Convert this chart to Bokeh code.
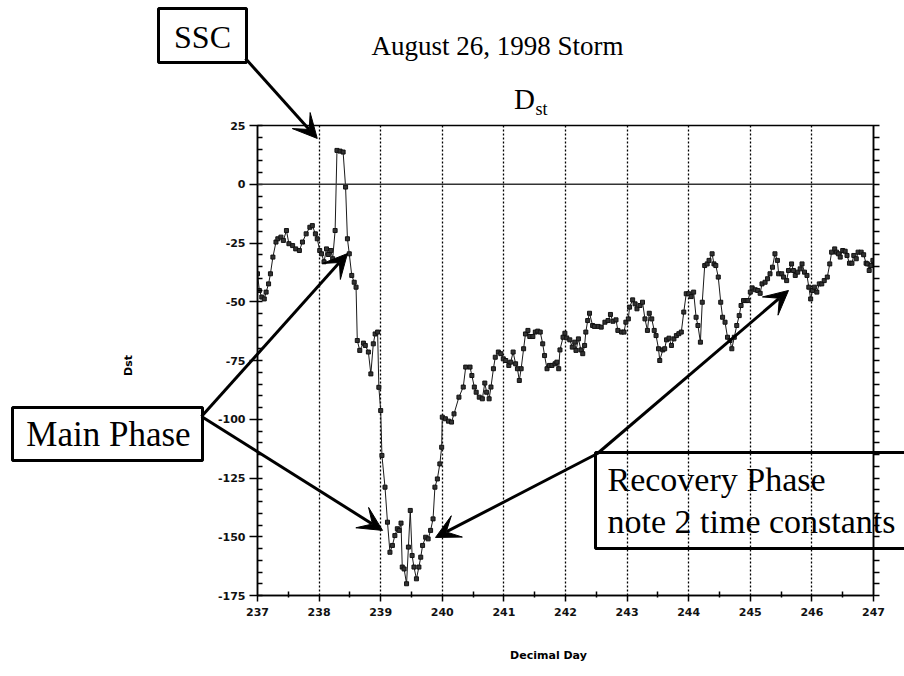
from bokeh.plotting import figure
from bokeh.models import (Range1d, FixedTicker, LinearAxis, Span, Label, Arrow,
                          VeeHead, BoxAnnotation, Column)
from bokeh.embed import file_html
from bokeh.resources import INLINE

# Dst index, August 1998 storm (decimal day of year, nT)
day = [
    237.00, 237.03, 237.07, 237.11, 237.14, 237.18, 237.21, 237.25, 237.30, 237.33,
    237.38, 237.42, 237.47, 237.51, 237.57, 237.62, 237.68, 237.73, 237.79, 237.85,
    237.89, 237.94, 237.97, 238.01, 238.04, 238.08, 238.12, 238.15, 238.19, 238.22,
    238.26, 238.29, 238.34, 238.39, 238.43, 238.46, 238.49, 238.53, 238.57, 238.60,
    238.62, 238.66, 238.72, 238.75, 238.80, 238.84, 238.88, 238.91, 238.95, 238.97,
    239.00, 239.02, 239.07, 239.11, 239.15, 239.19, 239.23, 239.27, 239.30, 239.33,
    239.35, 239.38, 239.42, 239.45, 239.48, 239.51, 239.54, 239.58, 239.62, 239.65,
    239.68, 239.73, 239.77, 239.81, 239.85, 239.88, 239.92, 239.96, 239.99, 240.00,
    240.05, 240.10, 240.15, 240.19, 240.27, 240.34, 240.38, 240.45, 240.48, 240.52,
    240.55, 240.60, 240.65, 240.69, 240.72, 240.76, 240.79, 240.83, 240.86, 240.91,
    240.95, 240.99, 241.03, 241.08, 241.11, 241.15, 241.19, 241.22, 241.25, 241.28,
    241.32, 241.35, 241.39, 241.42, 241.47, 241.51, 241.55, 241.59, 241.63, 241.66,
    241.70, 241.74, 241.78, 241.83, 241.86, 241.89, 241.91, 241.96, 241.99, 242.02,
    242.07, 242.11, 242.15, 242.17, 242.21, 242.25, 242.28, 242.31, 242.33, 242.36,
    242.39, 242.44, 242.47, 242.53, 242.58, 242.64, 242.69, 242.73, 242.77, 242.82,
    242.85, 242.91, 242.95, 242.98, 243.02, 243.04, 243.09, 243.13, 243.16, 243.21,
    243.25, 243.29, 243.33, 243.36, 243.40, 243.44, 243.47, 243.51, 243.53, 243.58,
    243.61, 243.64, 243.68, 243.72, 243.76, 243.80, 243.84, 243.88, 243.92, 243.96,
    244.00, 244.04, 244.08, 244.12, 244.15, 244.19, 244.22, 244.26, 244.30, 244.33,
    244.38, 244.41, 244.44, 244.48, 244.52, 244.55, 244.59, 244.63, 244.67, 244.70,
    244.74, 244.78, 244.82, 244.85, 244.89, 244.93, 244.96, 245.00, 245.03, 245.08,
    245.12, 245.16, 245.19, 245.24, 245.28, 245.32, 245.36, 245.40, 245.44, 245.46,
    245.51, 245.54, 245.59, 245.62, 245.67, 245.70, 245.73, 245.77, 245.81, 245.84,
    245.88, 245.92, 245.95, 245.98, 246.01, 246.04, 246.08, 246.12, 246.16, 246.20,
    246.25, 246.29, 246.32, 246.37, 246.40, 246.43, 246.46, 246.50, 246.54, 246.57,
    246.61, 246.65, 246.68, 246.72, 246.75, 246.80, 246.84, 246.88, 246.90, 246.93,
    246.96, 246.99,
]
dst = [
    -38.1, -45.2, -48.0, -48.8, -45.9, -42.4, -38.1, -31.0, -24.6, -23.2,
    -22.5, -23.9, -19.7, -25.3, -26.1, -27.5, -28.2, -24.6, -21.1, -18.3,
    -17.6, -21.1, -23.2, -28.2, -29.6, -33.0, -27.5, -29.9, -28.2, -31.7,
    -19.7, 14.4, 14.1, 13.7, -1.2, -23.2, -29.6, -38.8, -41.7, -43.8,
    -66.5, -70.7, -67.6, -68.6, -71.4, -80.7, -67.9, -63.7, -62.9, -86.4,
    -96.3, -115.4, -128.9, -143.8, -156.6, -153.7, -149.5, -146.6, -147.3, -144.2,
    -162.9, -163.7, -170.0, -154.4, -138.8, -158.0, -162.9, -167.9, -162.9, -158.7,
    -153.7, -150.2, -150.9, -147.3, -142.4, -128.9, -125.4, -119.0, -111.9, -99.1,
    -99.8, -100.8, -101.2, -97.7, -90.6, -86.3, -77.8, -77.8, -81.4, -86.3,
    -88.5, -90.6, -91.3, -84.6, -88.5, -91.3, -86.3, -78.5, -73.6, -71.4,
    -72.1, -74.3, -75.0, -77.1, -75.7, -71.4, -76.4, -78.5, -83.5, -78.5,
    -70.0, -63.7, -62.2, -64.8, -64.8, -62.9, -62.5, -62.9, -67.9, -72.9,
    -78.5, -77.1, -77.1, -76.4, -75.7, -78.5, -70.5, -65.1, -63.4, -65.4,
    -66.2, -69.3, -67.2, -70.7, -65.8, -70.5, -72.1, -68.6, -62.9, -58.0,
    -54.9, -60.1, -60.5, -60.5, -60.8, -58.7, -58.0, -55.4, -58.3, -57.7,
    -62.2, -62.9, -62.9, -58.7, -57.3, -52.3, -49.2, -50.9, -53.0, -51.6,
    -50.2, -57.3, -62.2, -54.9, -57.3, -62.2, -64.4, -70.0, -75.0, -70.5,
    -70.0, -66.2, -65.5, -68.6, -65.8, -64.4, -63.6, -62.9, -54.4, -46.6,
    -46.6, -47.8, -45.9, -56.6, -60.1, -67.2, -50.2, -34.6, -33.9, -32.4,
    -29.6, -33.9, -34.6, -39.5, -50.2, -56.6, -58.7, -65.1, -66.5, -70.0,
    -65.1, -60.1, -55.9, -51.6, -49.5, -49.5, -49.5, -45.9, -44.1, -44.9,
    -45.2, -46.4, -42.4, -41.7, -40.2, -38.1, -35.3, -29.6, -32.4, -38.1,
    -38.1, -39.5, -41.0, -36.7, -33.9, -36.7, -38.8, -37.4, -36.0, -33.9,
    -37.4, -38.8, -43.8, -48.8, -45.2, -43.8, -45.9, -42.4, -42.4, -41.0,
    -39.5, -33.9, -28.9, -27.5, -28.9, -29.6, -31.0, -28.2, -28.5, -30.3,
    -33.6, -33.6, -30.3, -31.7, -28.9, -28.9, -30.0, -33.6, -33.9, -36.7,
    -34.6, -32.4,
]

x_ticks = [237, 238, 239, 240, 241, 242, 243, 244, 245, 246, 247]
x_tick_labels = ["237", "238", "239", "240", "241", "242", "243", "244", "245", "246", "247"]
x_minor = [237.5, 238.5, 239.5, 240.5, 241.5, 242.5, 243.5, 244.5, 245.5, 246.5]
day_lines = [238, 239, 240, 241, 242, 243, 244, 245, 246]
y_ticks = [25, 0, -25, -50, -75, -100, -125, -150, -175]
y_tick_labels = ["25", "0", "-25", "-50", "-75", "-100", "-125", "-150", "-175"]
y_minor = list(range(-175, 30, 5))

# callout targets on the curve (day, nT)
ssc_tip = (237.97, 19.5)
main_tips = [(238.46, -29.5), (239.03, -147.3)]
recovery_tips = [(239.89, -150.3), (245.62, -45.2)]

X0, X1 = 237, 247
Y0, Y1 = -175, 25

# page layout (pixels): plot frame edges
FL, FR, FT, FB = 257, 873, 125, 595
W, H = 904, 676


def to_px(d, v):
    """Page pixel position of a (day, Dst) point inside the plot frame."""
    return (FL + (d - X0) * (FR - FL) / (X1 - X0),
            FT + (Y1 - v) * (FB - FT) / (Y1 - Y0))


# ---- main plot -------------------------------------------------------------
p = figure(width=W, height=H, output_backend="svg", toolbar_location=None,
           x_range=Range1d(X0, X1), y_range=Range1d(Y0, Y1),
           min_border_left=FL, min_border_right=W - FR,
           min_border_top=FT, min_border_bottom=H - FB,
           background_fill_color="white", border_fill_color="white",
           frame_align=False)
p.outline_line_color = "black"
p.outline_line_width = 1.5

tick_font = "DejaVu Sans"

xa = p.xaxis[0]
xa.ticker = FixedTicker(ticks=x_ticks, minor_ticks=x_minor)
xa.major_label_overrides = dict(zip(x_ticks, x_tick_labels))
xa.major_label_text_font = tick_font
xa.major_label_text_font_size = "11px"
xa.major_label_text_font_style = "bold"
xa.major_label_text_color = "#111"
xa.major_label_standoff = 6
xa.major_tick_out = 6
xa.major_tick_in = 0
xa.minor_tick_in = 4
xa.minor_tick_out = 2
xa.axis_line_width = 1.5
xa.major_tick_line_width = 1.5
xa.minor_tick_line_width = 1.5

ya = p.yaxis[0]
ya.ticker = FixedTicker(ticks=y_ticks, minor_ticks=y_minor)
ya.major_label_overrides = dict(zip(y_ticks, y_tick_labels))
ya.major_label_text_font = tick_font
ya.major_label_text_font_size = "11px"
ya.major_label_text_font_style = "bold"
ya.major_label_text_color = "#111"
ya.major_label_standoff = 4
ya.major_tick_out = 8
ya.major_tick_in = 0
ya.minor_tick_in = 5
ya.minor_tick_out = 0
ya.axis_line_width = 1.5
ya.major_tick_line_width = 1.5
ya.minor_tick_line_width = 1.5

right = LinearAxis(ticker=FixedTicker(ticks=[], minor_ticks=y_minor),
                   minor_tick_out=6, minor_tick_in=0, axis_line_width=1.5,
                   minor_tick_line_width=1.5)
p.add_layout(right, "right")

p.ygrid.visible = False
p.xgrid.ticker = FixedTicker(ticks=day_lines)
p.xgrid.grid_line_color = "black"
p.xgrid.grid_line_dash = "2 2"
p.xgrid.grid_line_width = 1.3

p.add_layout(Span(location=0, dimension="width", line_color="#333", line_width=1.5))

p.line(day, dst, line_color="#1a1a1a", line_width=1)
p.scatter(day, dst, marker="square", size=4, fill_color="#333", line_color="#111")

# ---- transparent page-sized layer for titles and callouts -------------------
ov = figure(width=W, height=H, output_backend="svg", toolbar_location=None,
            x_range=Range1d(0, W), y_range=Range1d(H, 0),
            x_axis_location=None, y_axis_location=None, min_border=0,
            background_fill_color=None, border_fill_color=None,
            margin=(-H, 0, 0, 0), frame_align=False)
ov.outline_line_color = None
ov.grid.visible = False

serif = "Liberation Serif"


def label(x, y, text, size, align="center", font=serif, style="normal", angle=0,
          baseline="middle"):
    ov.add_layout(Label(x=x, y=y, text=text, text_font=font, text_font_size=size,
                        text_align=align, text_baseline=baseline,
                        text_font_style=style, angle=angle, text_color="black"))


def box(x0, y0, x1, y1):
    ov.add_layout(BoxAnnotation(left=x0, right=x1, top=y0, bottom=y1,
                                fill_alpha=0, line_color="black", line_alpha=1,
                                line_width=3))


def arrow(x0, y0, target):
    xe, ye = to_px(*target)
    ov.add_layout(Arrow(x_start=x0, y_start=y0, x_end=xe, y_end=ye, line_width=3,
                        line_color="black",
                        end=VeeHead(size=24, fill_color="black", line_color="black")))


# titles
label(497, 45, "August 26, 1998 Storm", "27px")
label(524, 98, "D", "29px")
label(535, 108, "st", "18px", align="left")

# axis titles
label(128, 365, "Dst", "11px", font=tick_font, style="bold", angle=1.5708)
label(548, 655, "Decimal Day", "11px", font=tick_font, style="bold")

# SSC callout
box(158, 8, 246, 62)
label(202, 36, "SSC", "32px")
arrow(245, 58, ssc_tip)

# main phase callout
box(12, 407, 202, 460)
label(108, 434, "Main Phase", "35px")
for tip in main_tips:
    arrow(201, 416, tip)

# recovery phase callout
box(595, 452, 912, 548)
label(607, 479, "Recovery Phase", "34px", align="left")
label(607, 521, "note 2 time constants", "34px", align="left")
for tip in recovery_tips:
    arrow(597, 453, tip)

layout = Column(children=[p, ov])
open("out.html", "w").write(file_html(layout, INLINE))
